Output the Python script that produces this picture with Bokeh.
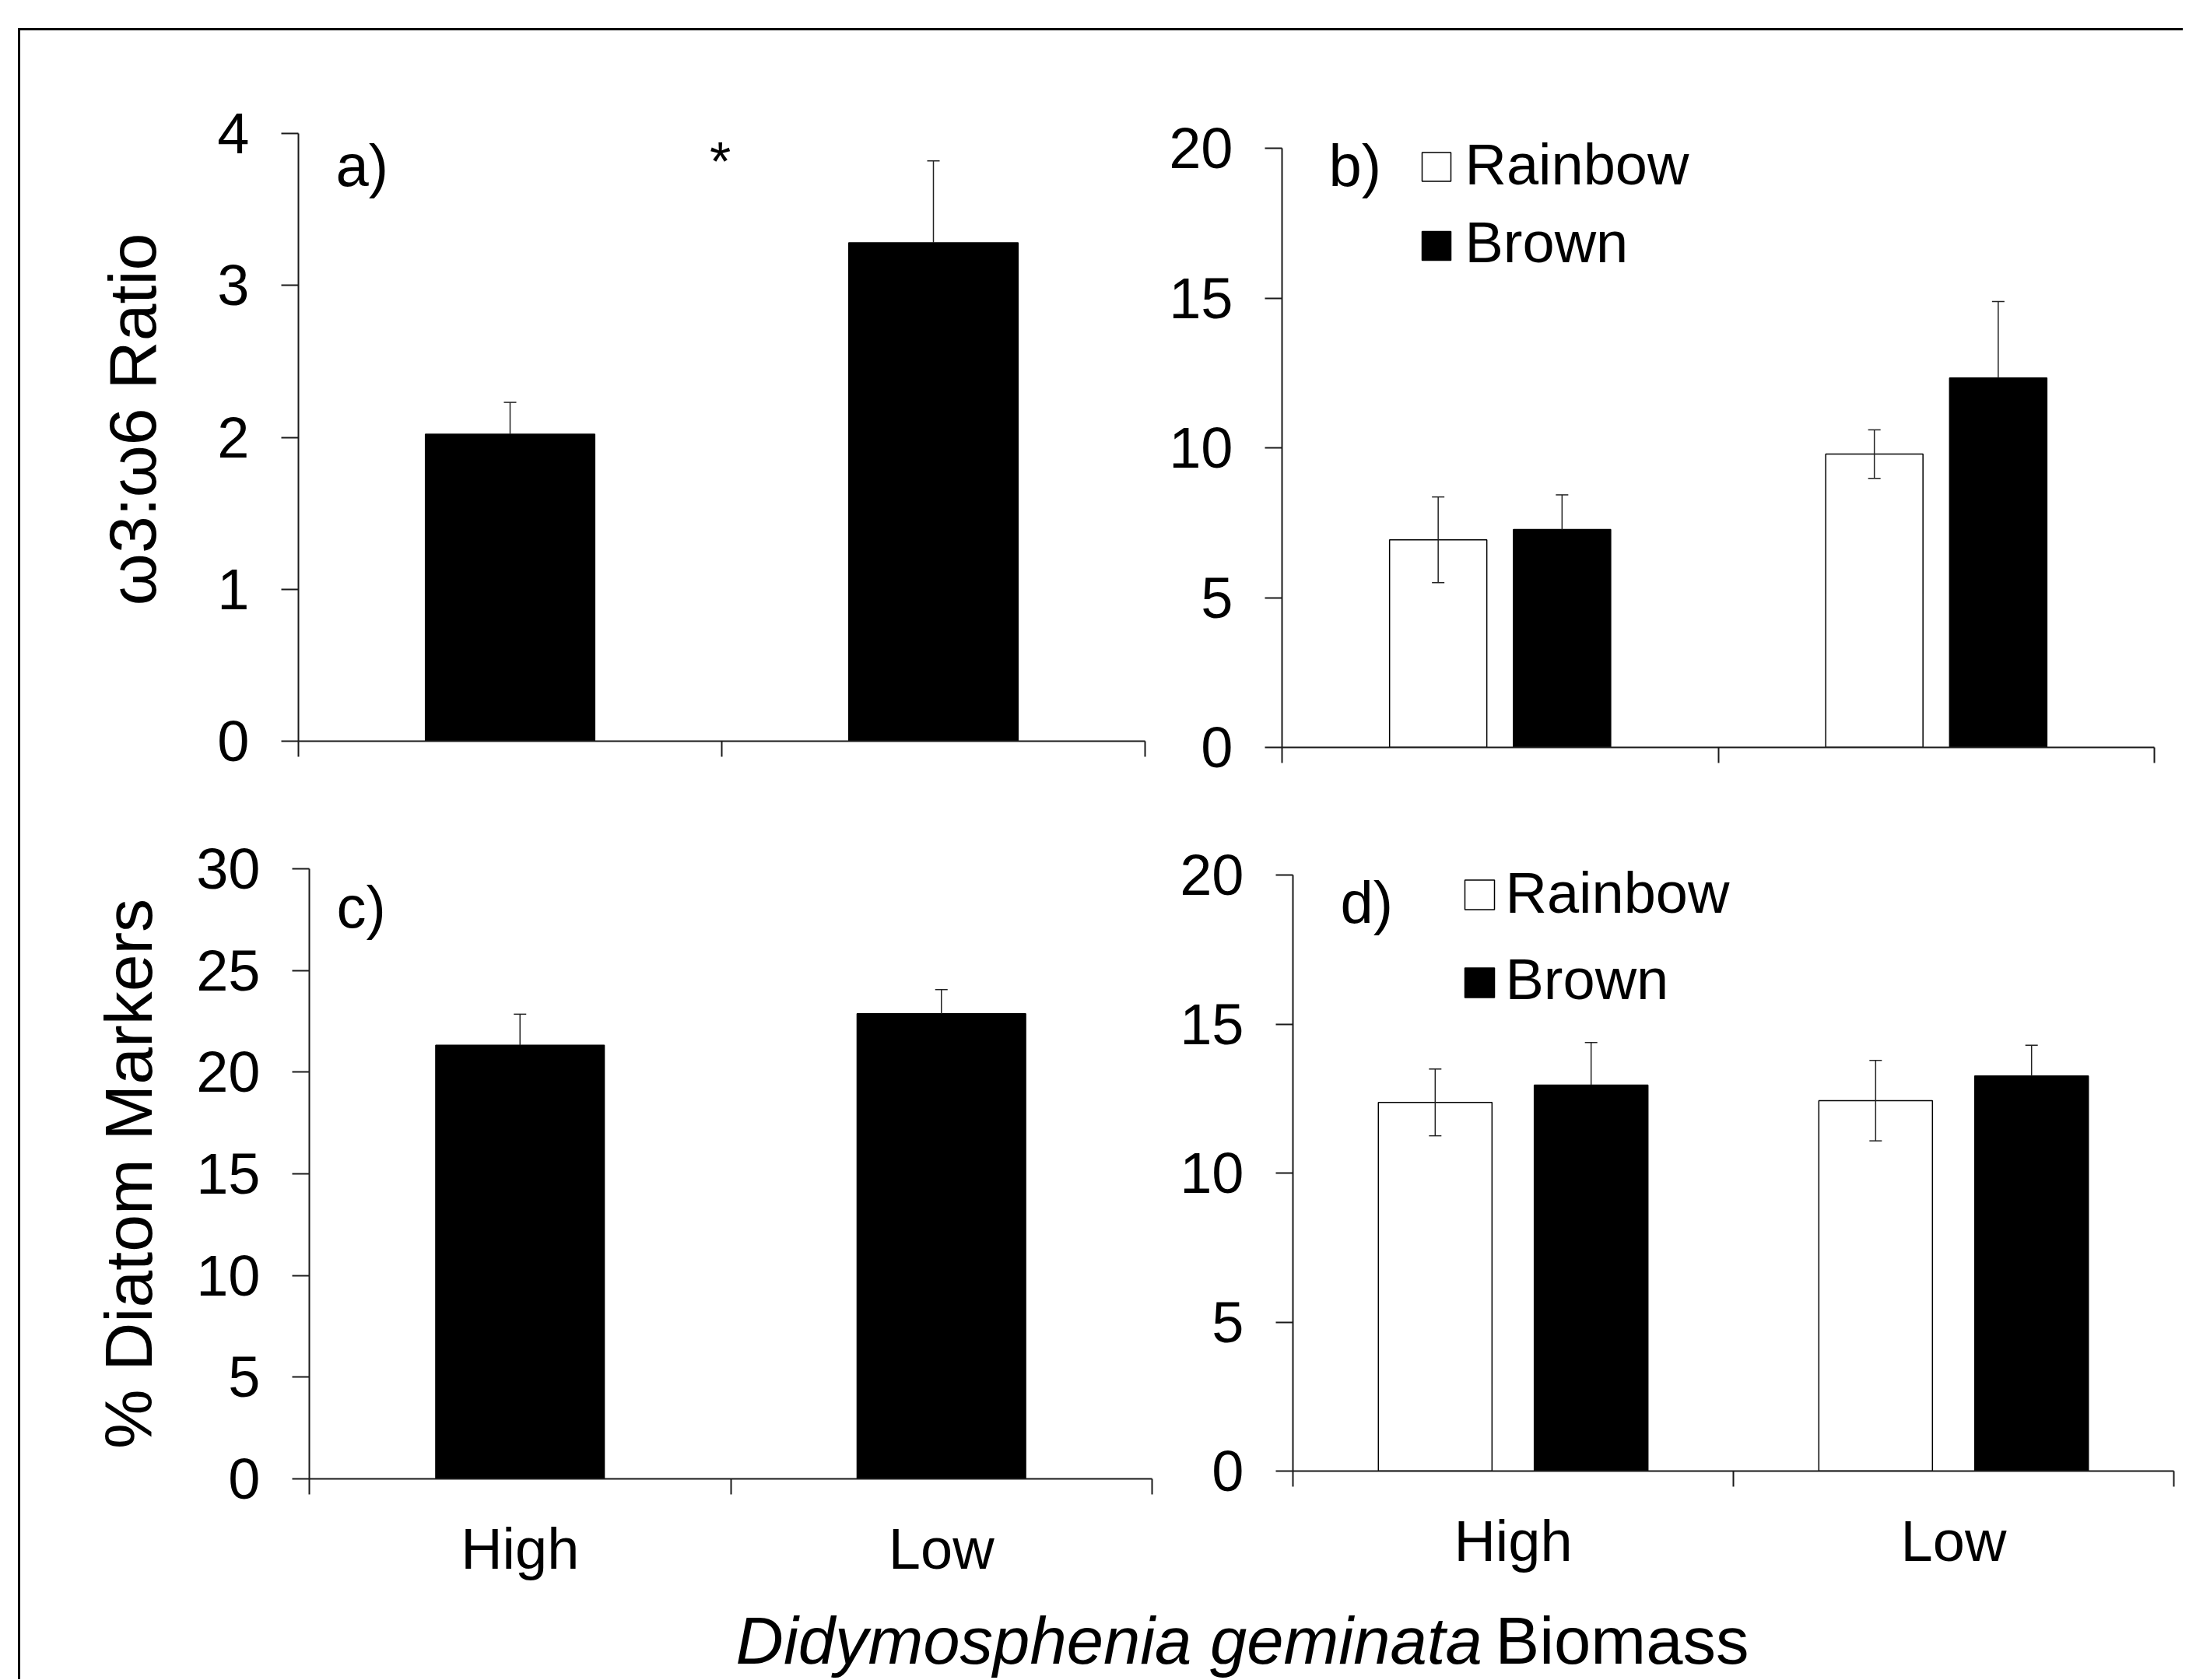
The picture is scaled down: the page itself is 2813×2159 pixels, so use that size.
from bokeh.plotting import figure
from bokeh.models import ColumnDataSource, Range1d, FixedTicker, Whisker, TeeHead, Label, Spacer
from bokeh.layouts import column, row
from bokeh.embed import file_html
from bokeh.resources import INLINE

# ---------------- data ----------------
categories = ["High", "Low"]
series = ["Rainbow", "Brown"]

a_mean = [2.02, 3.28]
a_err = [0.21, 0.54]

b_rainbow = [6.93, 9.79]
b_rainbow_err = [1.43, 0.81]
b_brown = [7.27, 12.33]
b_brown_err = [1.16, 2.55]

c_mean = [21.32, 22.87]
c_err = [1.53, 1.19]

d_rainbow = [12.37, 12.43]
d_rainbow_err = [1.12, 1.35]
d_brown = [12.95, 13.26]
d_brown_err = [1.43, 1.03]

a_ticks = [0, 1, 2, 3, 4]
b_ticks = [0, 5, 10, 15, 20]
c_ticks = [0, 5, 10, 15, 20, 25, 30]
d_ticks = [0, 5, 10, 15, 20]

a_ylabel = "ω3:ω6  Ratio"
c_ylabel = "% Diatom Markers"
x_title_italic = "Didymosphenia geminata"
x_title_normal = "Biomass"

# ---------------- style / layout (page pixels) ----------------
FONT = "Liberation Sans"
TICK_PX = 74
PANEL_PX = 76
YTITLE_PX = 86
XTITLE_PX = 85
AX_COLOR = "#1a1a1a"
AX_W = 2
ERR_COLOR = "#222222"
BASELINE_FIX = 0.36   # em: compensation of the drawn baseline

ORIGIN_X, ORIGIN_Y = 26, 39         # inside the framed box
LEFT_W, RIGHT_W = 1464, 1315
ROW1_H, ROW2_H, TITLE_H = 1001, 1000, 118

n = len(categories)
centers = [i + 0.5 for i in range(n)]
bounds = list(range(n + 1))


class Geo:
    def __init__(self, fx, fy, fw, fh, left, right, top, bottom, ymax, ext):
        self.fx, self.fy, self.fw, self.fh = fx, fy, fw, fh
        self.left, self.right, self.top, self.bottom, self.ymax = left, right, top, bottom, ymax
        self.ext = ext  # free room above the top tick (px) so texts there are not clipped

    def borders(self):
        return (self.left - self.fx, self.fx + self.fw - self.right,
                self.top - self.ext - self.fy, self.fy + self.fh - self.bottom)

    def yend(self):
        return self.ymax * (self.bottom - self.top + self.ext) / (self.bottom - self.top)

    def dx(self, px):
        return (px - self.left) / (self.right - self.left) * n

    def dy(self, py):
        return (self.bottom - py) / (self.bottom - self.top) * self.ymax


GA = Geo(ORIGIN_X, ORIGIN_Y, LEFT_W, ROW1_H, 383, 1471, 171, 952, 4, 70)
GB = Geo(ORIGIN_X + LEFT_W, ORIGIN_Y, RIGHT_W, ROW1_H, 1647, 2768, 190, 960, 20, 70)
GC = Geo(ORIGIN_X, ORIGIN_Y + ROW1_H, LEFT_W, ROW2_H, 397, 1480, 1116, 1900, 30, 0)
GD = Geo(ORIGIN_X + LEFT_W, ORIGIN_Y + ROW1_H, RIGHT_W, ROW2_H, 1661, 2793, 1124, 1890, 20, 70)


def make_panel(g, yticks, show_cats, ylabel=None, ylabel_standoff=0):
    bl, br, bt, bb = g.borders()
    p = figure(width=g.fw, height=g.fh, x_range=Range1d(0, n), y_range=Range1d(0, g.yend()),
               output_backend="svg", toolbar_location=None,
               min_border_left=bl, min_border_right=br, min_border_top=bt, min_border_bottom=bb)
    p.xgrid.visible = False
    p.ygrid.visible = False
    p.outline_line_color = None
    p.background_fill_color = "white"
    p.border_fill_color = "white"

    yax = p.yaxis[0]
    yax.bounds = (0, g.ymax)
    yax.ticker = FixedTicker(ticks=yticks)
    yax.major_tick_out = 22
    yax.major_tick_in = 0
    yax.minor_tick_line_color = None
    yax.major_tick_line_color = AX_COLOR
    yax.major_tick_line_width = AX_W
    yax.axis_line_color = AX_COLOR
    yax.axis_line_width = AX_W
    yax.major_label_standoff = 41
    yax.major_label_text_font = FONT
    yax.major_label_text_font_size = f"{TICK_PX}px"
    yax.major_label_text_color = "black"
    if ylabel:
        yax.axis_label = ylabel
        yax.axis_label_text_font = FONT
        yax.axis_label_text_font_size = f"{YTITLE_PX}px"
        yax.axis_label_text_font_style = "normal"
        yax.axis_label_text_color = "black"
        yax.axis_label_standoff = ylabel_standoff

    xax = p.xaxis[0]
    xax.ticker = FixedTicker(ticks=centers, minor_ticks=bounds)
    xax.major_tick_out = 0
    xax.major_tick_in = 0
    xax.major_tick_line_color = None
    xax.minor_tick_out = 20
    xax.minor_tick_in = 0
    xax.minor_tick_line_color = AX_COLOR
    xax.minor_tick_line_width = AX_W
    xax.axis_line_color = AX_COLOR
    xax.axis_line_width = AX_W
    overrides = {}
    for c, lab in zip(centers, categories):
        txt = lab if show_cats else ""
        overrides[c] = txt
        overrides[str(c)] = txt
    xax.major_label_overrides = overrides
    xax.major_label_standoff = 28
    xax.major_label_text_font = FONT
    xax.major_label_text_font_size = f"{TICK_PX}px"
    xax.major_label_text_color = "black"
    return p


def add_bars(p, xs, means, errs, width, fill, both_sides):
    src = ColumnDataSource(dict(
        x=xs, top=means,
        upper=[m + e for m, e in zip(means, errs)],
        lower=[(m - e) if both_sides else m for m, e in zip(means, errs)],
    ))
    p.vbar(x="x", top="top", bottom=0, width=width, source=src,
           fill_color=fill, line_color="black", line_width=1.5)
    lower_head = TeeHead(size=16, line_color=ERR_COLOR, line_width=1.5) if both_sides else None
    p.add_layout(Whisker(base="x", upper="upper", lower="lower", source=src,
                         dimension="height", line_color=ERR_COLOR, line_width=1.5, level="overlay",
                         upper_head=TeeHead(size=16, line_color=ERR_COLOR, line_width=1.5),
                         lower_head=lower_head))


def add_text(p, g, px, py_baseline, text, size, align="left"):
    """Text placed at a page-pixel baseline, converted to the panel's data space."""
    py = py_baseline - BASELINE_FIX * size
    p.add_layout(Label(x=g.dx(px), y=g.dy(py), text=text, text_font=FONT,
                       text_font_size=f"{size}px", text_align=align,
                       text_baseline="alphabetic", text_color="black"))


def add_legend(p, g, box_cx, box_cys, box, text_x, text_baselines):
    p.scatter(x=[g.dx(box_cx)] * len(series), y=[g.dy(v) for v in box_cys], marker="square",
              size=box, fill_color=["white", "black"], line_color="black", line_width=1.5)
    for name, yb in zip(series, text_baselines):
        add_text(p, g, text_x, yb, name, TICK_PX)


# ---------------- panel a ----------------
pa = make_panel(GA, a_ticks, False, a_ylabel, 58)
add_bars(pa, centers, a_mean, a_err, 0.40, "black", False)
add_text(pa, GA, 431, 239, "a)", PANEL_PX)
add_text(pa, GA, 925, 233, "*", 70, align="center")

# ---------------- panel b ----------------
pb = make_panel(GB, b_ticks, False)
off_b, w_b = 0.142, 0.223
add_bars(pb, [c - off_b for c in centers], b_rainbow, b_rainbow_err, w_b, "white", True)
add_bars(pb, [c + off_b for c in centers], b_brown, b_brown_err, w_b, "black", False)
add_text(pb, GB, 1707, 239, "b)", PANEL_PX)
add_legend(pb, GB, 1845.5, [214, 315.5], 37, 1882, [238, 338])

# ---------------- panel c ----------------
pc = make_panel(GC, c_ticks, True, c_ylabel, 36)
add_bars(pc, centers, c_mean, c_err, 0.40, "black", False)
add_text(pc, GC, 432, 1192, "c)", PANEL_PX)

# ---------------- panel d ----------------
pd_ = make_panel(GD, d_ticks, True)
off_d, w_d = 0.177, 0.258
add_bars(pd_, [c - off_d for c in centers], d_rainbow, d_rainbow_err, w_d, "white", True)
add_bars(pd_, [c + off_d for c in centers], d_brown, d_brown_err, w_d, "black", False)
add_text(pd_, GD, 1722, 1186, "d)", PANEL_PX)
add_legend(pd_, GD, 1901, [1149.5, 1262.5], 38, 1934, [1174, 1284.5])

# ---------------- shared x title ----------------
TW = LEFT_W + RIGHT_W
pt = figure(width=TW, height=TITLE_H, x_range=Range1d(0, TW), y_range=Range1d(0, TITLE_H),
            x_axis_type=None, y_axis_type=None, min_border=0,
            output_backend="svg", toolbar_location=None)
pt.xgrid.visible = False
pt.ygrid.visible = False
pt.outline_line_color = None
title_top = ORIGIN_Y + ROW1_H + ROW2_H
title_base = 2139 - BASELINE_FIX * XTITLE_PX
pt.add_layout(Label(x=945 - ORIGIN_X, y=title_top + TITLE_H - title_base, text=x_title_italic,
                    text_font=FONT, text_font_size=f"{XTITLE_PX}px", text_font_style="italic",
                    text_baseline="alphabetic", text_color="black"))
pt.add_layout(Label(x=1921 - ORIGIN_X, y=title_top + TITLE_H - title_base, text=x_title_normal,
                    text_font=FONT, text_font_size=f"{XTITLE_PX}px", text_font_style="normal",
                    text_baseline="alphabetic", text_color="black"))

grid = column(row(column(pa), column(pb)), row(column(pc), column(pd_)), pt,
              styles={"border-left": "3px solid black", "border-top": "3px solid black"})
layout = column(Spacer(height=ORIGIN_Y - 3), row(Spacer(width=ORIGIN_X - 3), grid))

open("out.html", "w").write(file_html(layout, INLINE))
